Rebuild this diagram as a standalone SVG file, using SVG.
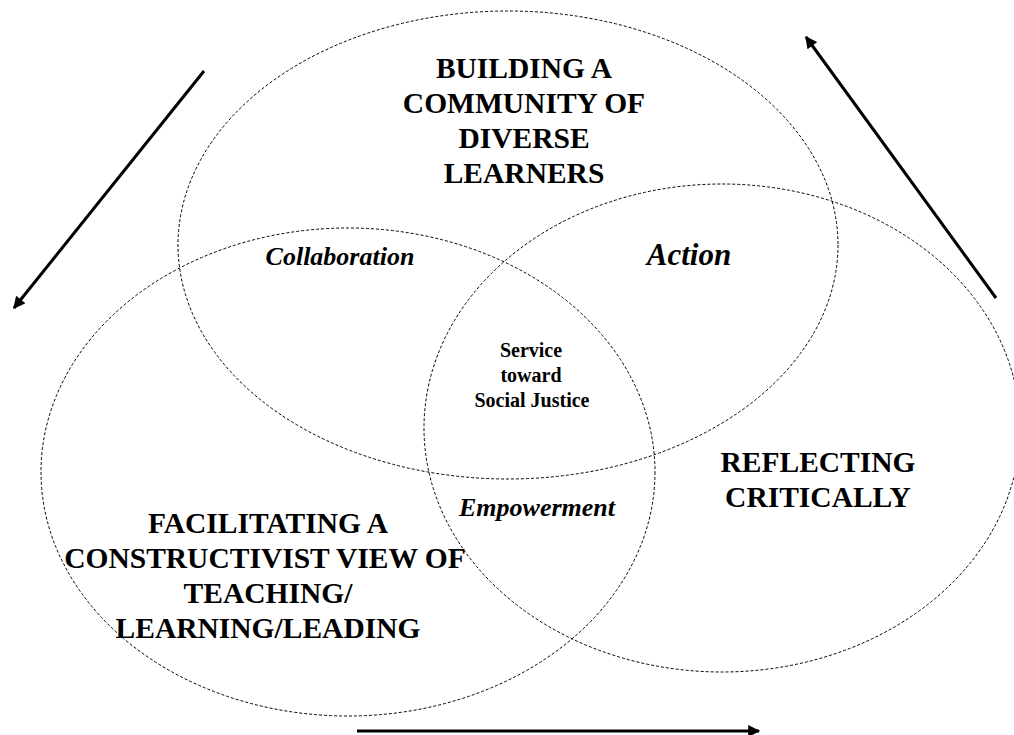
<svg xmlns="http://www.w3.org/2000/svg" width="1014" height="735" viewBox="0 0 1014 735">
<defs>
<marker id="ah" viewBox="0 0 10 10" refX="9" refY="5" markerWidth="4.5" markerHeight="4" markerUnits="strokeWidth" orient="auto">
<path d="M0,0 L10,5 L0,10 z" fill="#000"/>
</marker>
<style>
.ell{fill:none;stroke:#000;stroke-width:1;stroke-dasharray:3 2}
.arr{fill:none;stroke:#000;stroke-width:3;marker-end:url(#ah)}
text{font-family:"Liberation Serif","Times New Roman",serif;font-weight:bold;fill:#000;text-anchor:middle}
.big{font-size:29.5px}
.it{font-style:italic}
.sm{font-size:20px}
</style>
</defs>
<rect width="1014" height="735" fill="#fff"/>
<g id="community">
<ellipse class="ell" cx="508" cy="245" rx="330" ry="234"/>
<text class="big" x="524" y="78">BUILDING A</text>
<text class="big" x="524" y="113">COMMUNITY OF</text>
<text class="big" x="524" y="148">DIVERSE</text>
<text class="big" x="524" y="183">LEARNERS</text>
</g>
<g id="constructivist">
<ellipse class="ell" cx="348" cy="472" rx="307" ry="244"/>
<text class="big" x="268" y="533">FACILITATING A</text>
<text class="big" x="265" y="568">CONSTRUCTIVIST VIEW OF</text>
<text class="big" x="268" y="603">TEACHING/</text>
<text class="big" x="268" y="638">LEARNING/LEADING</text>
</g>
<g id="reflecting">
<ellipse class="ell" cx="722" cy="428" rx="298" ry="244"/>
<text class="big" x="818" y="472">REFLECTING</text>
<text class="big" x="818" y="507">CRITICALLY</text>
</g>
<g id="collaboration"><text class="it" style="font-size:26px" x="340" y="265">Collaboration</text></g>
<g id="action"><text class="it" style="font-size:31px" x="689" y="265">Action</text></g>
<g id="empowerment"><text class="it" style="font-size:26px" x="537" y="516">Empowerment</text></g>
<g id="service">
<text class="sm" x="531" y="357">Service</text>
<text class="sm" x="531" y="382">toward</text>
<text class="sm" x="532" y="407">Social Justice</text>
</g>
<g id="connectors">
<line class="arr" x1="204" y1="71" x2="14" y2="308"/>
<line class="arr" x1="996" y1="298" x2="806" y2="37"/>
<line class="arr" x1="357" y1="731" x2="759" y2="731"/>
</g>
</svg>
